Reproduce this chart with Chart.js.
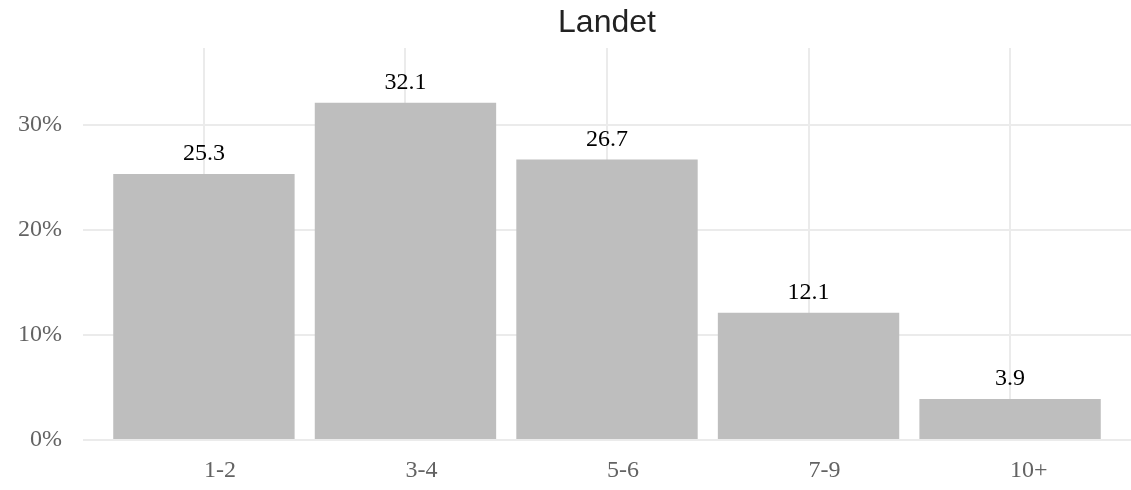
<!DOCTYPE html>
<html>
<head>
<meta charset="utf-8">
<script src="https://cdn.jsdelivr.net/npm/chart.js@4/dist/chart.umd.min.js"></script>
<style>
  html, body { margin: 0; padding: 0; background: #ffffff; }
  #wrap { width: 1131px; height: 490px; }
</style>
</head>
<body>
<div id="wrap"><canvas id="c" width="1131" height="490"></canvas></div>
<script>
const title = "Landet";
const categories = ["1-2", "3-4", "5-6", "7-9", "10+"];
const values = [25.3, 32.1, 26.7, 12.1, 3.9];
const yTicks = [0, 10, 20, 30];

const points = values.map((v, i) => ({ x: i, y: v }));

const valueLabels = {
  id: 'valueLabels',
  afterDatasetsDraw(chart) {
    const ctx = chart.ctx;
    const meta = chart.getDatasetMeta(0);
    ctx.save();
    ctx.font = '24px "Liberation Serif", serif';
    ctx.fillStyle = '#000000';
    ctx.textAlign = 'center';
    ctx.textBaseline = 'middle';
    meta.data.forEach((bar, i) => {
      ctx.fillText(values[i].toFixed(1), bar.x, bar.y - 20);
    });
    ctx.restore();
  }
};

new Chart(document.getElementById('c'), {
  type: 'bar',
  data: {
    datasets: [{
      data: points,
      backgroundColor: '#bebebe',
      borderWidth: 0,
      categoryPercentage: 1.0,
      barPercentage: 0.9
    }]
  },
  options: {
    responsive: false,
    animation: false,
    devicePixelRatio: 1,
    layout: { padding: { left: 0, right: 0, top: 0, bottom: 0 } },
    plugins: {
      legend: { display: false },
      tooltip: { enabled: false },
      title: {
        display: true,
        text: title,
        fullSize: false,
        color: '#222222',
        font: { family: '"Liberation Sans", Arial, sans-serif', size: 32, weight: 'normal' },
        padding: { top: 4, bottom: 5.6 }
      }
    },
    scales: {
      x: {
        type: 'linear',
        offset: false,
        min: -0.6,
        max: categories.length - 0.4,
        afterBuildTicks: s => { s.ticks = categories.map((c, i) => ({ value: i })); },
        afterFit: s => { s.height = 50; },
        border: { display: false },
        grid: { color: '#ebebeb', lineWidth: 2, drawTicks: false, offset: false },
        ticks: {
          padding: 16,
          align: 'start',
          color: '#636363',
          font: { family: '"Liberation Serif", serif', size: 24 },
          callback: v => categories[v]
        }
      },
      y: {
        min: 0,
        max: 37.3,
        afterBuildTicks: s => { s.ticks = yTicks.map(v => ({ value: v })); },
        afterFit: s => { s.width = 83; },
        border: { display: false },
        grid: { color: '#ebebeb', lineWidth: 2, drawTicks: false },
        ticks: {
          padding: 21,
          color: '#636363',
          font: { family: '"Liberation Serif", serif', size: 24 },
          callback: v => v + '%'
        }
      }
    }
  },
  plugins: [valueLabels]
});
</script>
</body>
</html>
